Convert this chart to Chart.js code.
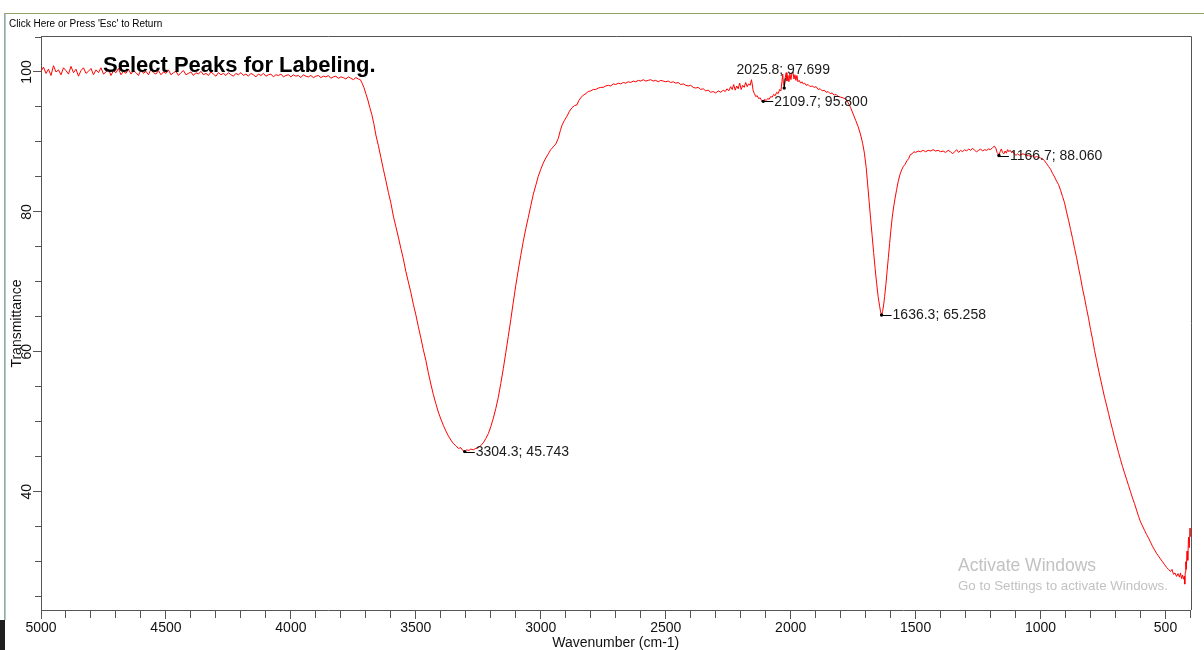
<!DOCTYPE html>
<html>
<head>
<meta charset="utf-8">
<script src="https://cdn.jsdelivr.net/npm/chart.js@4.4.0/dist/chart.umd.min.js"></script>
<style>
html,body{margin:0;padding:0;background:#fff;}
#wrap{position:relative;width:1204px;height:650px;overflow:hidden;background:#fff;}
canvas{position:absolute;left:0;top:0;}
.t{position:absolute;white-space:nowrap;line-height:1;font-family:'Liberation Sans',Arial,sans-serif;}
</style>
</head>
<body>
<div id="wrap">
  <div style="position:absolute;left:5px;top:13px;width:1199px;height:1px;background:#8fa565"></div>
  <div style="position:absolute;left:4px;top:13px;width:1px;height:607px;background:#8ea7cc"></div>
  <div style="position:absolute;left:5px;top:14px;width:1px;height:606px;background:#b9d09a"></div>
  <div style="position:absolute;left:0;top:620px;width:5px;height:30px;background:#1e1e1e"></div>
  <canvas id="c" width="1204" height="650"></canvas>
  <div class="t" style="left:9px;top:18.8px;font-size:10px;color:#000">Click Here or Press 'Esc' to Return</div>
  <div class="t" style="left:103px;top:54.4px;font-size:22px;font-weight:bold;color:#000">Select Peaks for Labeling.</div>
  <div class="t" style="left:958px;top:556.9px;font-size:17.5px;color:#c2c2c2">Activate Windows</div>
  <div class="t" style="left:958px;top:578.7px;font-size:13.3px;color:#c2c2c2">Go to Settings to activate Windows.</div>
</div>
<script>
// ---- data ----
const wavenumber = [
  5000,4990,4980,4970,4960,4950,4940,4930,4920,4910,4900,4890,4880,4870,4860,4850,4840,4830,4820,4810,
  4800,4790,4780,4770,4760,4750,4740,4730,4720,4710,4700,4690,4680,4670,4660,4650,4640,4630,4620,4610,
  4600,4590,4580,4570,4560,4550,4540,4530,4520,4510,4500,4490,4480,4470,4460,4450,4440,4430,4420,4410,
  4400,4390,4380,4370,4360,4350,4340,4330,4320,4310,4300,4290,4280,4270,4260,4250,4240,4230,4220,4210,
  4200,4190,4180,4170,4160,4150,4140,4130,4120,4110,4100,4090,4080,4070,4060,4050,4040,4030,4020,4010,
  4000,3990,3980,3970,3960,3950,3940,3930,3920,3910,3900,3890,3880,3870,3860,3850,3840,3830,3820,3810,
  3800,3790,3780,3770,3760,3750,3740,3730,3722,3715,
  3708,3700,3692,3684,3676,3668,3660,3650,3640,3630,3620,3610,3600,3590,3580,3570,3560,3550,3540,3530,
  3520,3510,3500,3490,3480,3470,3460,3450,3440,3430,3420,3410,3400,3390,3380,3370,3360,3350,3340,3330,
  3320,3312,3304.3,3296,3288,3280,3270,3260,3250,3240,3230,3220,3210,3200,3190,3180,3170,3160,3150,3140,
  3130,3120,3110,3100,3090,3080,3070,3060,3050,3040,3030,3020,3010,3000,2990,2980,2970,2960,2950,2940,
  2930,2922,2915,2905,2895,2885,2875,2865,2855,2848,2840,2830,2820,2810,2800,2790,2780,2770,2760,2750,
  2740,2730,2720,2710,2700,2690,2680,2670,2660,2650,2640,2630,2620,2610,2600,2590,2580,2570,2560,2550,
  2540,2530,2520,2510,2500,2490,2480,2470,2460,2450,2440,2430,2420,2410,2400,2390,2380,2370,2360,2350,
  2340,2330,2320,2310,2300,2290,2280,2270,2262,2255,2248,2240,2234,2228,2222,2216,2210,2204,2198,2192,
  2186,2180,2174,2168,2162,2157,2154,2150,2145,2140,2134,2128,2122,2116,2109.7,2104,2098,2092,2086,2080,
  2074,2068,2062,2056,2050,2044,2039,2035,2032,2029,2025.8,2022,2018,2015,2011,2007,2003,1999,1995,1991,
  1987,1983,1979,1975,1971,1966,1960,1955,1950,1944,1938,1930,1922,1914,1906,1898,1890,1882,1874,1866,
  1858,1850,1842,1834,1826,1818,1810,1800,1790,1780,1770,1760,1750,1740,1730,1720,1712,1705,1698,1692,
  1686,1680,1674,1668,1662,1656,1650,1644,1640,1636.3,1632,1628,1624,1619,1614,1609,1604,1599,1594,1588,
  1582,1576,1570,1563,1556,1549,1542,1535,1528,1521,1514,1507,1500,1490,1480,1470,1460,1450,1440,1430,
  1420,1410,1400,1390,1380,1370,1360,1352,1344,1336,1328,1320,1312,1304,1296,1288,1280,1272,1264,1256,
  1248,1240,1232,1224,1216,1208,1200,1192,1185,1179,1174,1170,1166.7,1162,1157,1152,1147,1142,1137,1132,
  1127,1122,1116,1110,1104,1098,1092,1085,1078,1070,1062,1055,1048,1040,1032,1024,1016,1008,1000,992,
  984,976,968,960,952,944,936,928,920,912,904,896,888,880,872,864,856,848,840,832,
  824,816,808,800,792,784,776,768,760,752,744,736,728,720,712,704,696,688,680,672,
  664,656,648,640,632,624,616,608,600,592,584,576,568,560,552,544,536,528,520,512,
  504,496,488,480,474,468,462,456,450,444,440,436,432,428,425,423,421,419,417,414,
  411,408,405,402,400
];
const transmittance = [
  100.1,100.7,99.8,100.4,99.5,100.9,100.0,100.3,99.6,100.6,100.2,99.7,100.8,99.9,100.4,99.4,100.2,100.6,99.8,100.1,
  100.5,99.6,100.3,99.9,100.6,99.7,100.0,100.4,99.5,100.2,99.9,100.5,99.6,100.1,99.8,100.4,99.7,100.2,99.9,99.5,
  100.3,99.8,100.1,99.6,100.4,99.9,99.7,100.2,99.6,100.0,99.8,100.3,99.6,99.9,100.1,99.5,99.9,100.2,99.6,99.8,
  100.0,99.5,99.9,99.7,100.1,99.6,99.8,99.5,100.0,99.7,99.4,99.9,99.6,99.8,99.5,99.9,99.6,99.4,99.8,99.6,
  99.9,99.5,99.7,99.4,99.8,99.6,99.3,99.7,99.5,99.8,99.4,99.6,99.7,99.3,99.6,99.5,99.7,99.3,99.5,99.6,
  99.3,99.6,99.4,99.5,99.2,99.6,99.4,99.3,99.5,99.2,99.4,99.5,99.2,99.4,99.3,99.5,99.1,99.3,99.4,99.1,
  99.3,99.2,99.0,99.3,99.1,98.9,99.2,99.0,98.9,98.4,
  97.8,96.9,96.0,94.9,93.9,92.6,91.0,89.5,87.8,86.1,84.5,82.8,81.3,79.4,77.9,76.4,74.8,73.3,71.5,70.0,
  68.5,66.8,65.3,63.6,62.0,60.3,58.8,57.0,55.4,53.9,52.6,51.4,50.4,49.5,48.7,48.0,47.4,46.9,46.6,46.2,
  46.3,45.9,45.743,46.0,45.9,46.1,46.0,46.2,46.3,46.6,47.0,47.6,48.3,49.3,50.5,51.9,53.5,55.5,57.6,59.9,
  62.2,64.6,67.1,69.5,71.7,73.8,75.8,77.6,79.2,80.9,82.5,83.8,85.1,86.1,87.0,87.7,88.3,88.9,89.3,89.7,
  90.5,91.6,92.4,93.1,93.7,94.4,94.9,95.2,95.3,95.9,96.3,96.7,96.9,97.2,97.3,97.5,97.5,97.7,97.8,97.8,
  98.0,98.1,98.0,98.3,98.2,98.4,98.3,98.5,98.4,98.6,98.5,98.7,98.6,98.8,98.7,98.9,98.7,98.8,98.9,98.7,
  98.8,98.6,98.8,98.7,98.6,98.7,98.5,98.6,98.4,98.5,98.2,98.3,98.1,98.0,98.1,97.8,97.7,97.8,97.5,97.6,
  97.3,97.4,97.1,97.2,97.0,97.3,97.1,97.4,97.2,97.6,97.3,97.9,97.5,98.2,97.4,98.0,97.6,98.4,97.5,98.1,
  97.8,98.5,97.9,98.3,98.1,98.9,98.3,97.3,96.9,96.5,96.6,96.2,96.3,95.9,95.800,96.1,95.9,96.2,96.1,96.5,
  96.4,96.8,96.6,97.1,96.9,97.5,97.3,98.6,99.7,98.4,97.699,99.1,99.9,98.7,99.5,98.6,99.7,98.9,99.8,100.0,
  99.0,99.6,98.8,99.5,98.6,98.8,98.4,98.6,98.3,98.4,98.1,98.2,97.9,98.0,97.8,97.9,97.5,97.6,97.3,97.4,
  97.1,97.2,96.9,97.0,96.7,96.8,96.5,96.4,96.3,96.1,95.6,94.9,94.0,93.1,92.2,91.0,89.8,88.4,86.4,84.0,
  81.5,79.0,76.6,74.2,71.9,69.8,67.9,66.5,65.7,65.258,65.8,66.7,67.9,69.6,71.6,73.5,75.5,77.4,79.1,80.7,
  82.0,83.2,84.3,85.3,86.0,86.5,86.8,87.3,87.6,88.2,88.3,88.6,88.5,88.7,88.6,88.8,88.6,88.8,88.7,88.9,
  88.7,88.8,88.6,88.7,88.5,88.8,88.6,88.3,88.6,88.9,88.5,88.8,88.6,88.9,88.7,89.0,88.8,89.1,88.8,88.6,
  88.8,89.0,88.7,88.9,88.8,89.0,88.9,89.2,89.4,89.1,88.5,88.3,88.060,88.6,89.0,88.5,88.3,88.7,88.4,88.9,
  88.6,88.8,88.5,88.6,88.2,88.1,88.3,88.1,88.2,88.3,88.2,88.0,88.1,87.9,88.0,87.8,87.9,87.8,87.7,87.6,
  87.3,86.9,86.5,86.1,85.5,85.0,84.4,83.9,83.1,82.2,81.3,80.0,78.8,77.5,76.2,74.8,73.5,72.0,70.6,69.0,
  67.7,66.2,64.8,63.2,61.8,60.2,58.8,57.4,56.1,54.8,53.5,52.4,51.2,50.0,48.9,47.7,46.7,45.6,44.6,43.6,
  42.7,41.8,40.9,40.0,39.1,38.3,37.4,36.5,35.7,35.1,34.5,33.9,33.4,32.8,32.2,31.7,31.2,30.8,30.4,30.0,
  29.6,29.2,28.9,28.6,28.9,28.2,28.4,27.9,28.3,27.8,28.4,27.6,28.1,27.5,27.9,26.8,28.5,30.0,28.9,31.5,
  30.2,33.5,32.0,34.8,33.6
];
const peakWavenumber = [3304.3, 2109.7, 2025.8, 1636.3, 1166.7];
const peakTransmittance = [45.743, 95.800, 97.699, 65.258, 88.060];
const xTickLabels = ['5000','4500','4000','3500','3000','2500','2000','1500','1000','500'];
const yTickLabels = ['40','60','80','100'];

// ---- style / layout ----
const peakLabelSide = ['right','right','above','right','right'];
const FONT = "'Liberation Sans', Arial, sans-serif";
Chart.defaults.font.family = FONT;

const peakLabelPlugin = {
  id: 'peakLabels',
  afterDatasetsDraw(chart) {
    const meta = chart.getDatasetMeta(1);
    const c = chart.ctx;
    c.save();
    c.font = '14px ' + FONT;
    c.fillStyle = '#1a1a1a';
    c.strokeStyle = '#000';
    c.lineWidth = 1;
    meta.data.forEach((pt, i) => {
      const text = peakWavenumber[i].toFixed(1) + '; ' + peakTransmittance[i].toFixed(3);
      const px = pt.x, py = pt.y;
      c.beginPath();
      if (peakLabelSide[i] === 'above') {
        c.moveTo(px, py);
        c.lineTo(px + 1, py - 10);
        c.stroke();
        c.textAlign = 'center';
        c.textBaseline = 'middle';
        c.fillText(text, px - 1, py - 17.5);
      } else {
        c.moveTo(px, Math.round(py) + 0.5);
        c.lineTo(px + 10, Math.round(py) + 0.5);
        c.stroke();
        c.textAlign = 'left';
        c.textBaseline = 'middle';
        c.fillText(text, px + 11, py + 0.5);
      }
    });
    c.restore();
  }
};

const framePlugin = {
  id: 'frame',
  afterDraw(chart) {
    const a = chart.chartArea;
    const c = chart.ctx;
    c.save();
    c.strokeStyle = '#555';
    c.lineWidth = 1;
    c.beginPath();
    c.moveTo(a.left, Math.round(a.top) - 0.5);
    c.lineTo(Math.round(a.right) + 0.5, Math.round(a.top) - 0.5);
    c.lineTo(Math.round(a.right) + 0.5, a.bottom);
    c.stroke();
    c.restore();
  }
};

new Chart(document.getElementById('c'), {
  type: 'line',
  data: {
    datasets: [
      {
        label: 'Spectrum',
        data: wavenumber.map((w, i) => ({x: w, y: transmittance[i]})),
        borderColor: '#ff0000',
        borderWidth: 1,
        pointRadius: 0,
        tension: 0,
        fill: false,
        order: 2
      },
      {
        label: 'Peaks',
        data: peakWavenumber.map((w, i) => ({x: w, y: peakTransmittance[i]})),
        showLine: false,
        pointRadius: 1.7,
        pointBorderWidth: 0,
        pointBackgroundColor: '#000',
        pointBorderColor: '#000',
        order: 1
      }
    ]
  },
  options: {
    responsive: false,
    animation: false,
    events: [],
    layout: {padding: {top: 37, right: 13.5, left: 0, bottom: 0}},
    plugins: {legend: {display: false}, tooltip: {enabled: false}},
    scales: {
      x: {
        type: 'linear',
        reverse: true,
        min: 400,
        max: 5000,
        afterFit: s => { s.height = 40; },
        ticks: {
          stepSize: 100, autoSkip: false, minRotation: 0, maxRotation: 0, padding: 1,
          color: '#111', font: {size: 14},
          callback: v => xTickLabels.includes(String(v)) ? String(v) : ''
        },
        grid: {
          drawOnChartArea: false, drawTicks: true, tickLength: 9, tickColor: '#555', tickWidth: 1,
          tickBorderDash: c => (c.tick && xTickLabels.includes(String(c.tick.value))) ? [] : [7, 20]
        },
        border: {display: true, color: '#555', width: 1},
        title: {display: true, text: 'Wavenumber (cm-1)', color: '#111', font: {size: 14}, padding: {top: 0, bottom: -1.4}}
      },
      y: {
        min: 23.1,
        max: 105,
        afterFit: s => { s.width = 41; },
        ticks: {
          stepSize: 5, includeBounds: false, autoSkip: false, minRotation: 90, maxRotation: 90,
          crossAlign: 'center', padding: -5.4, color: '#111', font: {size: 14},
          callback: v => yTickLabels.includes(String(v)) ? String(v) : ''
        },
        grid: {
          drawOnChartArea: false, drawTicks: true, tickLength: 8, tickColor: '#555', tickWidth: 1,
          tickBorderDash: c => (c.tick && c.tick.value % 20 === 0) ? [] : [0, 2, 6, 20]
        },
        border: {display: true, color: '#555', width: 1},
        title: {display: true, text: 'Transmittance', color: '#111', font: {size: 14}, padding: {top: 8.6, bottom: 0}}
      }
    }
  },
  plugins: [peakLabelPlugin, framePlugin]
});
</script>
</body>
</html>
